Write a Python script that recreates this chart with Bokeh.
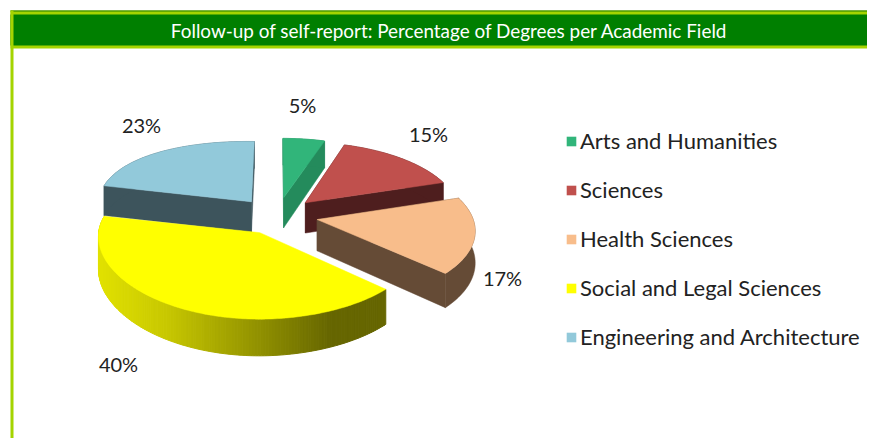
import math
from bokeh.plotting import figure
from bokeh.models import Range1d, Legend, LegendItem
from bokeh.core.properties import value
from bokeh.embed import file_html
from bokeh.resources import INLINE

title = "Follow-up of self-report: Percentage of Degrees per Academic Field"
categories = ["Arts and Humanities", "Sciences", "Health Sciences",
              "Social and Legal Sciences", "Engineering and Architecture"]
percent = [5, 15, 17, 40, 23]
top_colors = ["#31b57a", "#c0504d", "#f8bd8b", "#ffff00", "#92c9da"]
side_colors = ["#248b5c", "#4e1e1e", "#654b36", None, "#3d545c"]
label_pos = [(302, 104), (428, 133), (502, 277), (118, 363), (141, 124)]

W, H = 867, 438
CX, CY, A, B, F, EXPL, DEPTH, TILT = 277, 215, 155, 71, 8.0, 0.26, 31, 5.8

p = figure(width=W, height=H, x_range=Range1d(0, W), y_range=Range1d(H, 0),
           output_backend="svg", toolbar_location=None, min_border=0,
           outline_line_color=None, background_fill_color="white")
p.axis.visible = False
p.grid.visible = False

# frame
p.quad(left=10, right=W, top=10, bottom=48, fill_color="#a4d400", line_color=None)
p.quad(left=10, right=W, top=14, bottom=45, fill_color="#007f00", line_color=None)
p.quad(left=10, right=W, top=10, bottom=11, fill_color="#1f7f00", line_color=None)
p.quad(left=10, right=13, top=10, bottom=H, fill_color="#a4d400", line_color=None)
p.text([449], [30], text=[title], text_font=value("Lato"), text_font_size="18.9px",
       text_color="white", text_align="center", text_baseline="middle")


def proj(ang, r, mid):
    X = r * math.sin(ang) + EXPL * math.sin(mid)
    Z = r * math.cos(ang) + EXPL * math.cos(mid)
    s = F / (F + Z)
    return CX + A * X * s, CY - B * Z * s - TILT * min(X, 0) ** 2, s


def yellow_shade(x):
    stops = [(96, (226, 226, 0)), (165, (200, 200, 0)), (330, (102, 102, 0)), (390, (102, 102, 0))]
    for (x0, c0), (x1, c1) in zip(stops, stops[1:]):
        if x <= x1:
            t = max(0.0, (x - x0) / (x1 - x0))
            return "#%02x%02x%02x" % tuple(round(a + (b - a) * t) for a, b in zip(c0, c1))
    return "#666600"


total = sum(percent)
cum = 0
slices = []
for v, tc, sc in zip(percent, top_colors, side_colors):
    a0 = 2 * math.pi * cum / total
    cum += v
    a1 = 2 * math.pi * cum / total
    slices.append((a0, a1, tc, sc))

fx, fy, fc = [], [], []
gx, gy, gc = [], [], []

# painter order: far slices first
for idx in [4, 0, 1, 2]:
    a0, a1, tc, sc = slices[idx]
    mid = (a0 + a1) / 2
    tip = proj(0, 0, mid)
    n = max(6, int((a1 - a0) * 40))
    pts = [proj(a0 + (a1 - a0) * i / n, 1, mid) for i in range(n + 1)]
    for e in (pts[0], pts[-1]):
        fx.append([tip[0], e[0], e[0], tip[0]])
        fy.append([tip[1], e[1], e[1] + DEPTH * e[2], tip[1] + DEPTH * tip[2]])
        fc.append(sc)
    fx.append([q[0] for q in pts] + [q[0] for q in reversed(pts)])
    fy.append([q[1] for q in pts] + [q[1] + DEPTH * q[2] for q in reversed(pts)])
    fc.append(sc)
    fx.append([tip[0]] + [q[0] for q in pts])
    fy.append([tip[1]] + [q[1] for q in pts])
    fc.append(tc)
p.patches(fx, fy, fill_color=fc, line_color=fc, line_width=0.5)

# the large front slice has a shaded wall
a0, a1, tc, sc = slices[3]
mid = (a0 + a1) / 2
tip = proj(0, 0, mid)
n = 160
pts = [proj(a0 + (a1 - a0) * i / n, 1, mid) for i in range(n + 1)]
for q0, q1 in zip(pts, pts[1:]):
    gx.append([q0[0], q1[0], q1[0], q0[0]])
    gy.append([q0[1], q1[1], q1[1] + DEPTH * q1[2], q0[1] + DEPTH * q0[2]])
    gc.append(yellow_shade((q0[0] + q1[0]) / 2))
p.patches(gx, gy, fill_color=gc, line_color=gc, line_width=1)
p.patch([tip[0]] + [q[0] for q in pts], [tip[1]] + [q[1] for q in pts],
        fill_color=tc, line_color=tc, line_width=0.5)

# value labels
p.text([q[0] for q in label_pos], [q[1] for q in label_pos],
       text=[f"{v}%" for v in percent], text_font=value("Lato"), text_font_size="20px",
       text_color="#222222", text_align="center", text_baseline="middle")

# legend
items = []
for c, col in zip(categories, top_colors):
    r = p.quad(left=[-100], right=[-90], top=[-100], bottom=[-90], fill_color=col, line_color=None)
    items.append(LegendItem(label=c, renderers=[r]))
legend = Legend(items=items, location=(565, 88), orientation="vertical",
                border_line_color=None, background_fill_alpha=0,
                glyph_width=12, glyph_height=12, label_standoff=3, spacing=22,
                padding=0, margin=0, label_text_font="Lato", label_text_font_size="22px",
                label_text_color="#222222")
p.add_layout(legend, "center")

open("out.html", "w").write(file_html(p, INLINE))
